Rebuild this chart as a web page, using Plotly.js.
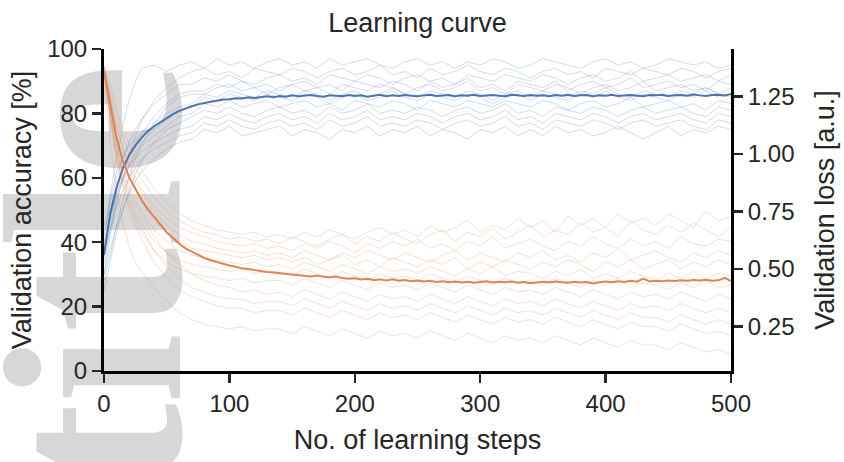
<!DOCTYPE html>
<html><head><meta charset="utf-8">
<script src="https://cdn.plot.ly/plotly-3.0.1.min.js"></script>
<style>html,body{margin:0;padding:0;background:#fff}#chart{width:844px;height:462px}</style>
</head><body><div id="chart"></div>
<script>
// ---------- data ----------
const stepsRun = [0,5,10,15,20,25,30,40,50,60,70,80,90,100,110,120,130,140,150,160,170,180,190,200,210,220,230,240,250,260,270,280,290,300,310,320,330,340,350,360,370,380,390,400,410,420,430,440,450,460,470,480,490,500];
const stepsMean = Array.from({length:101}, (_, i) => i * 5);

// individual runs: validation accuracy [%]
const accRun1  = [38,55,66,76,84,90,94, 95,93,95,96,94,97,95,96,94,96, 97,95,96,94,97,95,96,97,95,94, 96,97,95,96,94,96,95,97,96,94, 95,97,96,95,94,96,97,95,96,94, 95,97,96,95,96,94,95];
const accRun2  = [30,42,52,60,67,73,78, 84,88,91,93,94,92,93,91,94,93, 92,94,93,91,93,94,92,93,95,92, 93,91,94,92,93,95,93,92,94,93, 91,93,94,92,93,91,94,93,92,94, 93,92,94,93,91,93,94];
const accRun3  = [42,52,60,66,71,75,78, 83,86,89,89,91,90,92,90,89,91, 92,90,91,89,92,91,90,92,91,89, 91,92,90,91,89,92,91,90,92,91, 90,92,91,89,91,92,90,91,93,90, 91,92,90,91,92,90,92];
const accRun4  = [35,48,56,62,67,71,74, 79,83,86,87,87,89,88,90,88,89, 87,89,90,88,89,87,90,89,88,90, 89,87,90,88,89,91,88,89,87,90, 89,88,90,87,89,90,88,89,91,88, 89,90,88,89,87,90,89];
const accRun5  = [28,36,45,53,60,66,70, 77,82,85,86,86,88,89,87,88,86, 88,89,87,88,86,89,88,87,89,88, 86,88,89,87,88,90,87,88,86,89, 88,87,89,88,86,88,89,87,88,90, 87,88,89,87,88,86,88];
const accRun6  = [45,54,62,66,70,72,74, 77,80,82,83,86,85,87,86,85,87, 86,85,87,86,84,86,87,85,86,88, 86,85,87,86,85,87,86,84,86,87, 85,87,86,85,87,86,88,86,85,87, 86,85,87,86,88,86,85];
const accRun7  = [33,44,53,59,64,68,71, 75,78,81,82,85,84,86,85,84,86, 85,84,86,85,83,85,86,84,85,87, 85,84,86,85,84,86,85,83,85,86, 84,86,85,84,86,85,87,85,84,86, 85,84,86,85,87,85,86];
const accRun8  = [38,47,55,60,64,67,70, 73,76,79,80,83,82,84,82,83,84, 82,83,84,82,83,81,84,83,82,84, 83,81,84,83,82,84,83,82,84,83, 82,84,83,81,83,84,82,83,85,82, 83,84,82,83,81,84,83];
const accRun9  = [25,34,43,50,56,61,65, 71,75,77,79,81,80,82,80,79,81, 82,80,81,79,82,80,81,83,80,81, 80,82,81,79,81,82,80,81,83,80, 81,79,82,81,80,82,81,79,81,82, 80,81,82,80,79,82,81];
const accRun10 = [40,48,55,60,63,66,68, 71,73,75,76,79,78,80,78,77,79, 80,78,79,77,80,78,79,81,78,79, 78,80,79,77,79,80,78,79,81,78, 79,77,80,79,78,80,79,77,79,80, 78,79,80,78,77,80,79];
const accRun11 = [36,44,51,56,60,63,66, 69,71,73,74,77,76,78,76,75,77, 78,76,77,75,78,76,77,79,76,77, 76,78,77,75,77,78,76,77,79,76, 77,75,78,77,76,78,77,75,77,78, 76,77,78,76,75,78,77];
const accRun12 = [30,38,45,50,55,59,62, 66,69,71,72,75,74,76,73,74,75, 76,73,75,74,72,75,74,76,73,75, 74,76,73,75,74,72,75,74,76,73, 75,73,76,74,75,73,74,76,74,72, 74,76,73,75,74,76,75];

// individual runs: validation loss [a.u.]
const lossRun1  = [1.38,1.30,1.20,1.11,1.04,0.98,0.93, 0.85,0.79,0.74,0.71,0.69,0.67,0.66,0.65,0.66,0.64, 0.65,0.63,0.66,0.64,0.67,0.65,0.63,0.66,0.68,0.65, 0.67,0.64,0.69,0.66,0.68,0.71,0.66,0.69,0.67,0.72, 0.68,0.71,0.66,0.73,0.69,0.72,0.68,0.74,0.70,0.72, 0.69,0.74,0.71,0.68,0.75,0.71,0.73];
const lossRun2  = [1.37,1.27,1.16,1.07,1.00,0.94,0.89, 0.81,0.75,0.71,0.68,0.66,0.65,0.63,0.64,0.62,0.63, 0.61,0.64,0.62,0.60,0.63,0.65,0.61,0.64,0.62,0.66, 0.63,0.61,0.65,0.67,0.62,0.66,0.64,0.68,0.63,0.66, 0.69,0.64,0.67,0.65,0.70,0.66,0.68,0.64,0.71,0.67, 0.65,0.69,0.66,0.70,0.67,0.64,0.68];
const lossRun3  = [1.36,1.24,1.12,1.03,0.96,0.90,0.85, 0.77,0.72,0.68,0.66,0.64,0.62,0.61,0.60,0.61,0.59, 0.60,0.58,0.61,0.59,0.62,0.60,0.57,0.61,0.59,0.62, 0.60,0.63,0.59,0.61,0.58,0.62,0.60,0.64,0.59,0.61, 0.63,0.60,0.58,0.62,0.60,0.64,0.61,0.59,0.63,0.60, 0.62,0.59,0.64,0.61,0.60,0.63,0.62];
const lossRun4  = [1.38,1.25,1.12,1.02,0.94,0.88,0.83, 0.75,0.69,0.65,0.62,0.61,0.59,0.58,0.57,0.58,0.56, 0.57,0.55,0.58,0.56,0.54,0.57,0.55,0.58,0.56,0.54, 0.57,0.55,0.53,0.56,0.58,0.54,0.57,0.55,0.53,0.57, 0.55,0.58,0.54,0.56,0.53,0.57,0.55,0.59,0.54,0.56, 0.58,0.55,0.53,0.57,0.55,0.58,0.56];
const lossRun5  = [1.37,1.22,1.08,0.98,0.90,0.84,0.79, 0.71,0.66,0.62,0.59,0.58,0.57,0.56,0.55,0.56,0.54, 0.55,0.53,0.55,0.52,0.54,0.56,0.52,0.54,0.51,0.55, 0.53,0.51,0.54,0.52,0.55,0.50,0.53,0.51,0.54,0.52, 0.50,0.53,0.51,0.54,0.52,0.49,0.53,0.51,0.54,0.50, 0.52,0.54,0.50,0.53,0.51,0.54,0.52];
const lossRun6  = [1.36,1.20,1.05,0.94,0.86,0.80,0.75, 0.67,0.62,0.58,0.56,0.55,0.54,0.53,0.52,0.53,0.51, 0.52,0.50,0.53,0.51,0.49,0.52,0.50,0.48,0.51,0.49, 0.50,0.48,0.51,0.49,0.47,0.50,0.48,0.51,0.47,0.49, 0.48,0.46,0.49,0.47,0.50,0.46,0.48,0.46,0.49,0.47, 0.45,0.48,0.46,0.49,0.46,0.48,0.47];
const lossRun7  = [1.37,1.18,1.02,0.90,0.82,0.75,0.70, 0.62,0.57,0.54,0.52,0.51,0.50,0.49,0.50,0.48,0.49, 0.49,0.47,0.50,0.48,0.46,0.49,0.47,0.45,0.48,0.46, 0.47,0.45,0.48,0.46,0.44,0.47,0.45,0.43,0.46,0.44, 0.45,0.43,0.46,0.44,0.42,0.45,0.43,0.46,0.42,0.44, 0.43,0.41,0.44,0.42,0.45,0.42,0.43];
const lossRun8  = [1.38,1.16,0.99,0.87,0.78,0.71,0.66, 0.58,0.53,0.50,0.48,0.47,0.46,0.45,0.46,0.44,0.45, 0.45,0.43,0.46,0.44,0.42,0.45,0.43,0.41,0.44,0.42, 0.43,0.41,0.44,0.42,0.40,0.43,0.41,0.39,0.42,0.40, 0.41,0.39,0.42,0.40,0.38,0.41,0.39,0.37,0.40,0.38, 0.39,0.37,0.40,0.38,0.36,0.39,0.37];
const lossRun9  = [1.37,1.18,1.03,0.92,0.84,0.78,0.73, 0.64,0.57,0.52,0.48,0.45,0.43,0.42,0.40,0.41,0.39, 0.40,0.38,0.41,0.39,0.37,0.40,0.38,0.36,0.39,0.37, 0.38,0.36,0.39,0.37,0.35,0.38,0.36,0.34,0.37,0.35, 0.36,0.34,0.37,0.35,0.33,0.36,0.34,0.32,0.35,0.33, 0.34,0.32,0.35,0.33,0.31,0.33,0.31];
const lossRun10 = [1.36,1.16,1.00,0.89,0.80,0.73,0.68, 0.58,0.51,0.46,0.42,0.40,0.38,0.37,0.37,0.35,0.36, 0.36,0.34,0.37,0.35,0.33,0.36,0.34,0.32,0.35,0.33, 0.34,0.32,0.35,0.33,0.31,0.34,0.32,0.30,0.33,0.31, 0.32,0.30,0.33,0.31,0.29,0.32,0.30,0.28,0.31,0.29, 0.29,0.27,0.30,0.28,0.26,0.28,0.26];
const lossRun11 = [1.38,1.14,0.97,0.85,0.76,0.69,0.63, 0.53,0.46,0.41,0.38,0.36,0.34,0.33,0.33,0.31,0.32, 0.32,0.30,0.33,0.31,0.29,0.32,0.30,0.28,0.31,0.29, 0.30,0.28,0.31,0.29,0.27,0.30,0.28,0.26,0.29,0.27, 0.28,0.26,0.29,0.27,0.25,0.28,0.26,0.24,0.27,0.25, 0.25,0.23,0.26,0.24,0.22,0.23,0.21];
const lossRun12 = [1.36,1.05,0.85,0.70,0.60,0.53,0.49, 0.42,0.36,0.31,0.28,0.26,0.25,0.24,0.25,0.23,0.24, 0.24,0.22,0.25,0.23,0.21,0.24,0.22,0.20,0.23,0.21, 0.22,0.20,0.23,0.21,0.19,0.22,0.20,0.18,0.21,0.19, 0.20,0.18,0.21,0.19,0.17,0.20,0.18,0.16,0.19,0.17, 0.17,0.15,0.18,0.16,0.14,0.15,0.13];

// mean curves (every 5 steps)
const accMean = [36,49,57,63,67,70,72.5,74.5,76,77.3,
  78.5,79.8,80.8,81.6,82.2,82.8,83.3,83.6,83.9,84.3,
  84.4,84.7,84.6,85.0,84.8,85.1,85.3,85.0,85.4,85.2,
  85.6,85.3,85.5,85.7,85.4,85.2,85.6,85.5,85.3,85.7,
  85.4,85.6,85.2,85.5,85.8,85.3,85.6,85.4,85.7,85.5,
  85.3,85.6,85.8,85.4,85.5,85.7,85.3,85.6,85.5,85.8,
  85.4,85.6,85.7,85.5,85.3,85.8,85.6,85.4,85.7,85.5,
  85.6,85.3,85.7,85.5,85.8,85.4,85.6,85.7,85.3,85.6,
  85.5,85.8,85.4,85.6,85.7,85.5,85.3,85.7,85.6,85.8,
  85.4,85.6,85.7,85.5,85.9,85.6,85.4,85.7,85.8,85.6,
  86.0];
const lossMean = [1.36,1.21,1.07,0.97,0.90,0.85,0.80,0.76,0.725,0.69,
  0.66,0.635,0.61,0.59,0.575,0.56,0.548,0.538,0.53,0.522,
  0.515,0.51,0.503,0.50,0.495,0.49,0.487,0.485,0.482,0.478,
  0.476,0.472,0.47,0.468,0.472,0.466,0.464,0.467,0.461,0.458,
  0.46,0.455,0.458,0.452,0.455,0.45,0.456,0.449,0.452,0.447,
  0.45,0.446,0.449,0.444,0.447,0.443,0.446,0.442,0.445,0.441,
  0.444,0.447,0.442,0.445,0.443,0.446,0.441,0.444,0.438,0.443,
  0.445,0.442,0.446,0.443,0.441,0.445,0.442,0.444,0.437,0.443,
  0.446,0.443,0.447,0.444,0.449,0.445,0.458,0.446,0.449,0.447,
  0.45,0.448,0.451,0.449,0.452,0.45,0.453,0.449,0.451,0.462,
  0.448];

const accRuns = [accRun1,accRun2,accRun3,accRun4,accRun5,accRun6,accRun7,accRun8,accRun9,accRun10,accRun11,accRun12];
const lossRuns = [lossRun1,lossRun2,lossRun3,lossRun4,lossRun5,lossRun6,lossRun7,lossRun8,lossRun9,lossRun10,lossRun11,lossRun12];

// ---------- styles ----------
const BLUE = '#4C72B0', ORANGE = '#DD8452';
const BLUE_FAINT = 'rgba(76,114,176,0.25)', ORANGE_FAINT = 'rgba(221,132,82,0.25)';
const INK = '#262626';
const SANS = 'Liberation Sans, Arial, sans-serif';

const traces = [];
accRuns.forEach(r => traces.push({x: stepsRun, y: r, type: 'scatter', mode: 'lines', yaxis: 'y',
  line: {color: BLUE_FAINT, width: 1}, hoverinfo: 'skip', showlegend: false}));
traces.push({x: stepsMean, y: accMean, type: 'scatter', mode: 'lines', yaxis: 'y',
  line: {color: BLUE, width: 2}, showlegend: false});
lossRuns.forEach(r => traces.push({x: stepsRun, y: r, type: 'scatter', mode: 'lines', yaxis: 'y2',
  line: {color: ORANGE_FAINT, width: 1}, hoverinfo: 'skip', showlegend: false}));
traces.push({x: stepsMean, y: lossMean, type: 'scatter', mode: 'lines', yaxis: 'y2',
  line: {color: ORANGE, width: 2}, showlegend: false});

const axisCommon = {
  showgrid: false, zeroline: false, showline: true, linecolor: '#000', linewidth: 3,
  ticks: 'outside', ticklen: 9, tickwidth: 2.5, tickcolor: INK,
  tickfont: {family: SANS, size: 24, color: INK}
};

const layout = {
  width: 844, height: 462,
  margin: {l: 104, r: 113, t: 49, b: 91},
  paper_bgcolor: '#fff', plot_bgcolor: 'rgba(0,0,0,0)',
  title: {text: 'Learning curve', font: {family: SANS, size: 27, color: INK},
          x: 0.5, xref: 'paper', y: 1 - 23/462, yref: 'container', yanchor: 'middle'},
  xaxis: Object.assign({}, axisCommon, {range: [0, 500], tickvals: [0,100,200,300,400,500],
    title: {text: 'No. of learning steps', font: {family: SANS, size: 27, color: INK}, standoff: 15}}),
  yaxis: Object.assign({}, axisCommon, {range: [0, 100], tickvals: [0,20,40,60,80,100],
    title: {text: 'Validation accuracy [%]', font: {family: SANS, size: 27, color: INK}, standoff: 8}}),
  yaxis2: Object.assign({}, axisCommon, {overlaying: 'y', side: 'right', range: [0.057, 1.456],
    tickvals: [0.25,0.5,0.75,1.0,1.25], ticktext: ['0.25','0.50','0.75','1.00','1.25'],
    title: {text: 'Validation loss [a.u.]', font: {family: SANS, size: 27, color: INK}, standoff: 22}}),
  shapes: [{
    type: 'rect', xref: 'paper', yref: 'paper', layer: 'below',
    x0: -0.231, x1: 0.109, y0: -0.405, y1: 0.995,
    line: {width: 0}, fillcolor: 'rgba(0,0,0,0)',
    label: {text: 'title', textangle: -90, textposition: 'middle center',
            font: {family: 'Liberation Serif, serif', size: 255, weight: 'bold', color: '#d7d7d7'}}
  }],
  showlegend: false
};

Plotly.newPlot('chart', traces, layout, {staticPlot: true, displayModeBar: false});
</script></body></html>
